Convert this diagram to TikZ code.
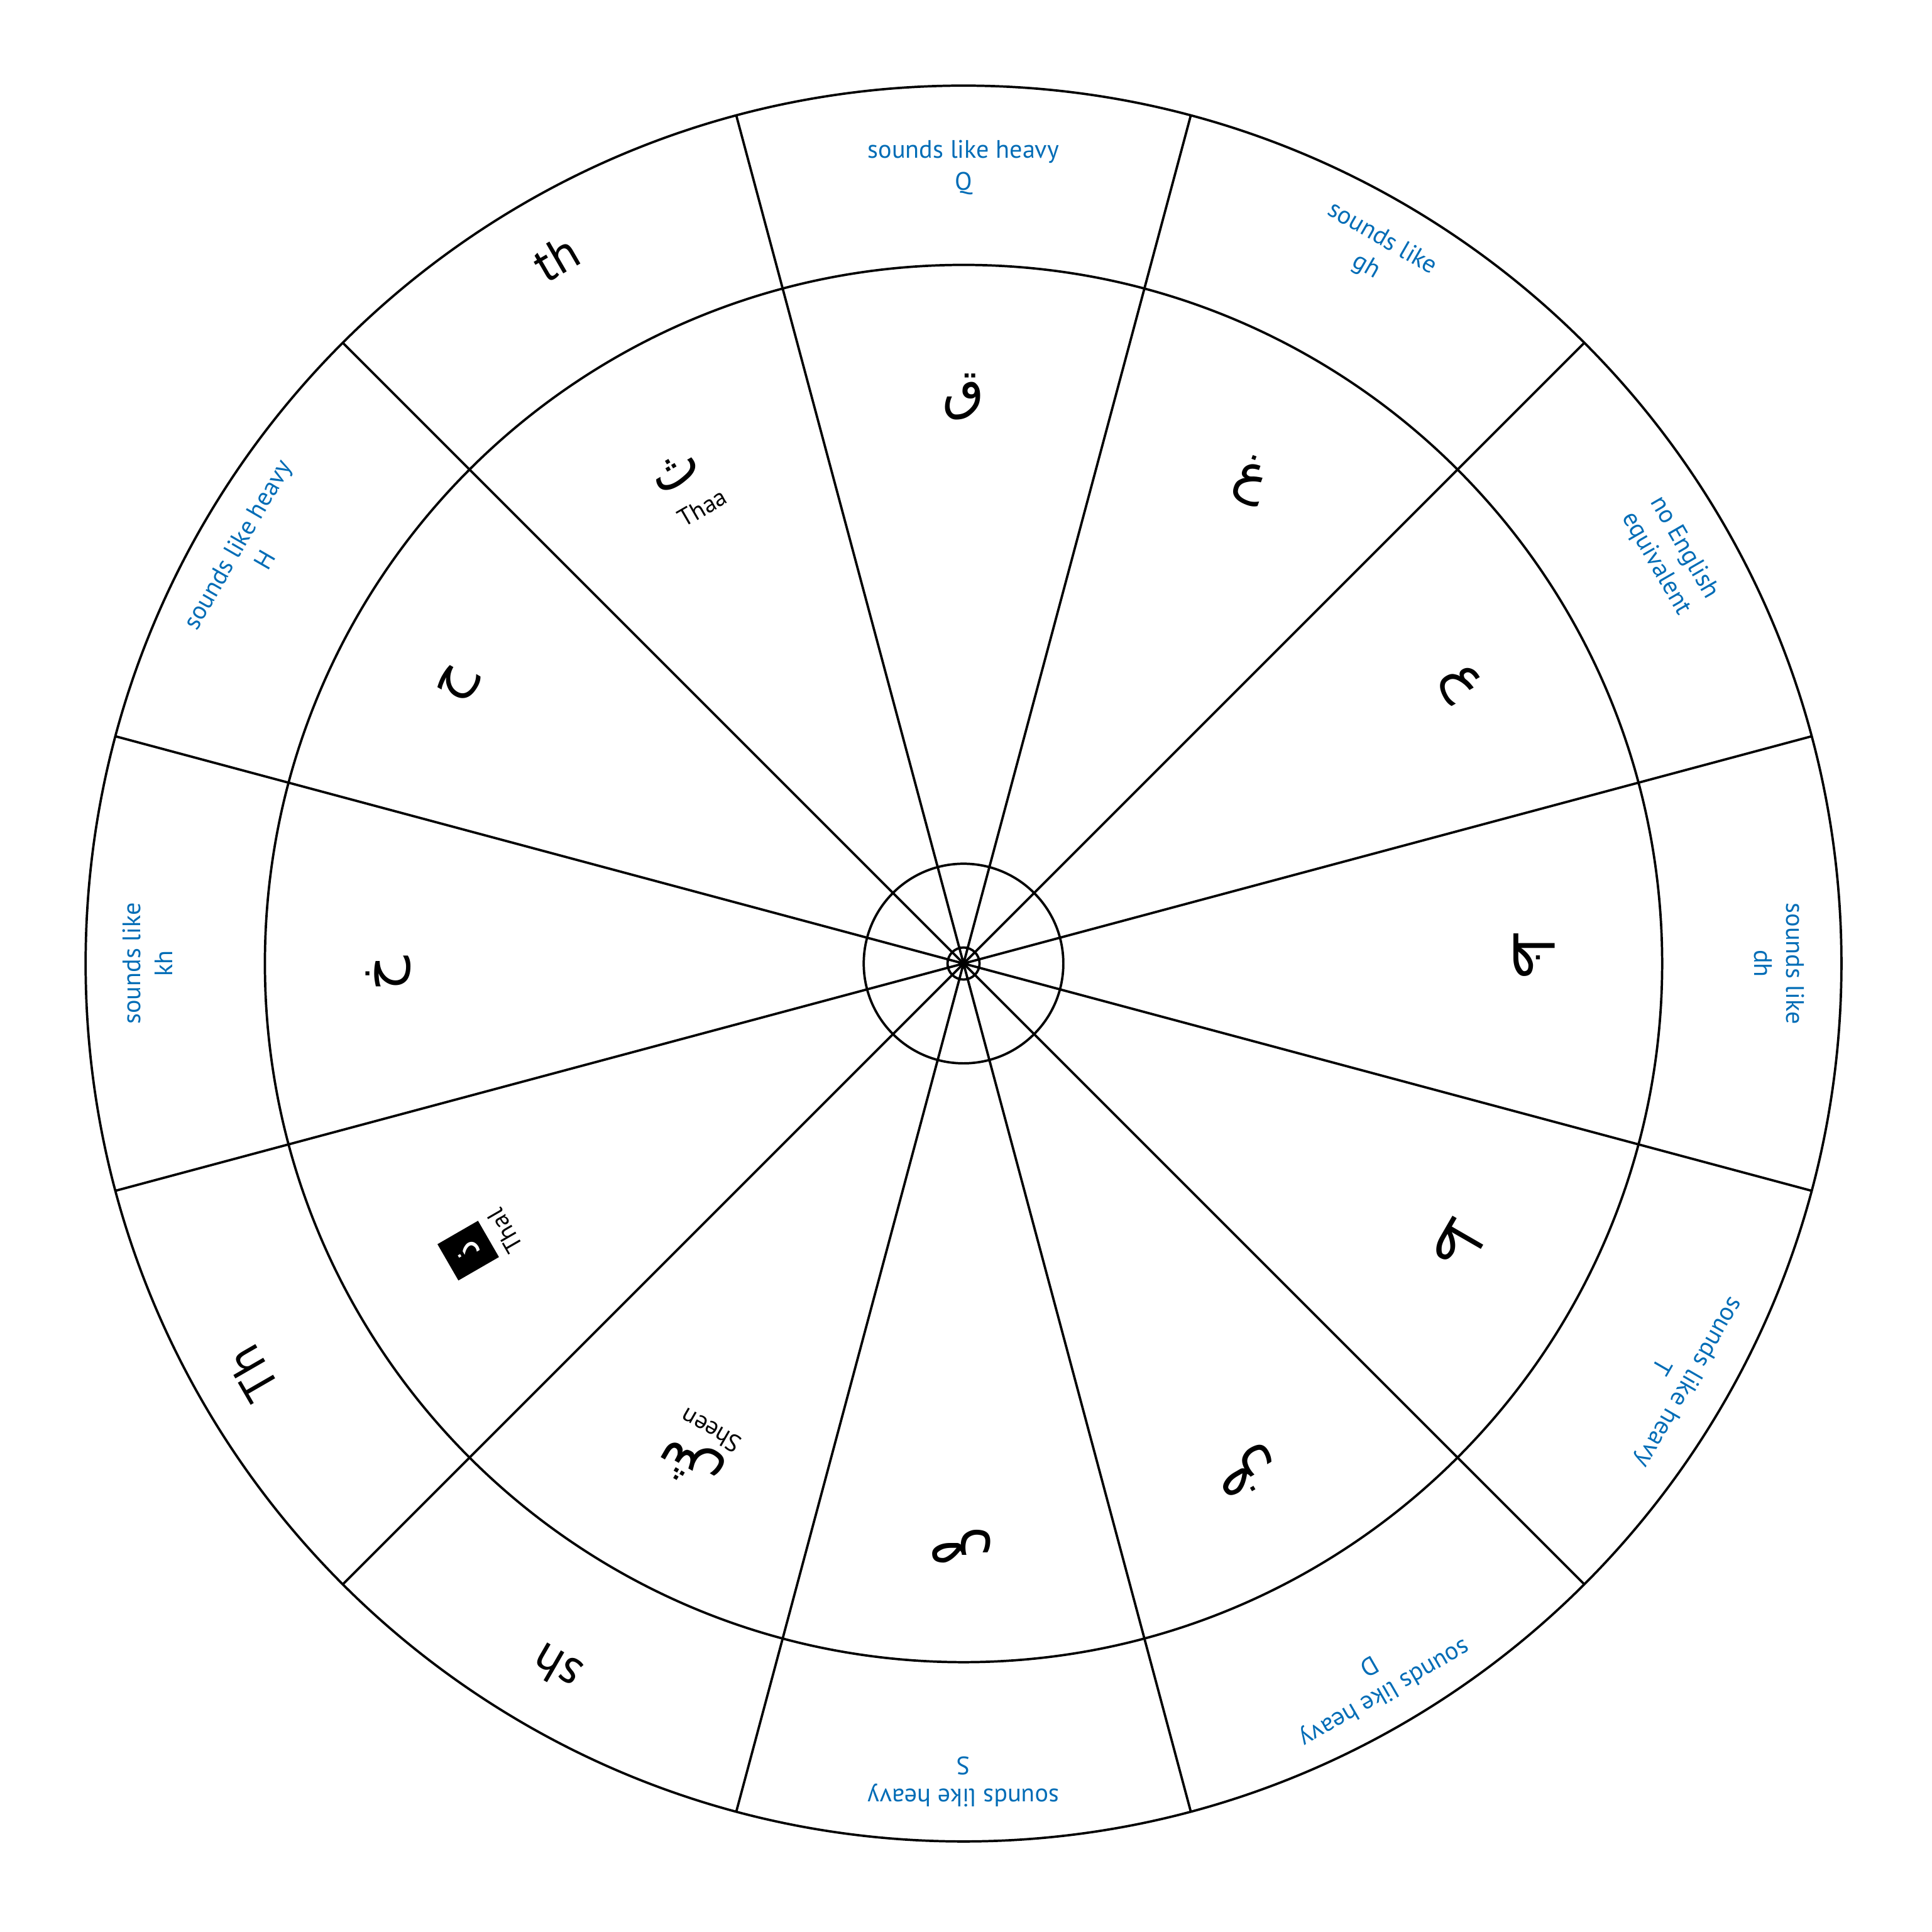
\documentclass[tikz,border=0pt]{standalone}
\usepackage{fontspec}
\setmainfont{PT Sans}
\newfontfamily\arabicfont[Script=Arabic]{DejaVu Sans}
\TeXXeTstate=1
\definecolor{lblue}{RGB}{0,108,182}
\begin{document}
\begin{tikzpicture}[x=1pt,y=1pt,
  ring/.style={draw=black,line width=1.9pt},
  spoke/.style={draw=black,line width=1.9pt},
  bluelbl/.style={text=lblue,font=\fontsize{20.5}{26}\selectfont,align=center,inner sep=0pt},
  biglbl/.style={text=black,font=\fontsize{40}{46}\selectfont,inner sep=0pt},
  letter/.style={font=\arabicfont\fontsize{44}{52}\selectfont,inner sep=0pt},
  smalllbl/.style={text=black,font=\fontsize{20}{23}\selectfont,inner sep=0pt}]
\useasboundingbox (-782,-786) rectangle (786,782);
\coordinate (c) at (0,0);
\draw[ring] (c) circle (712.5);
\draw[ring] (c) circle (567);
\draw[ring] (c) circle (81);
\draw[ring] (c) circle (13);
\foreach \a in {15,45,...,345} {
  \coordinate (o\a) at (\a:712.5);
  \draw[spoke] (c) -- (o\a);
}
% outer labels
\node[bluelbl,rotate=0]    (l90)  at (90:646)   {sounds like heavy\\Q};
\node[bluelbl,rotate=-30]  (l60)  at (60:666)   {sounds like\\gh};
\node[bluelbl,rotate=-60]  (l30)  at (30:662)   {no English\\equivalent};
\node[bluelbl,rotate=-90]  (l0)   at (0:662)    {sounds like\\dh};
\node[bluelbl,rotate=-120] (lm30) at (-30:668)  {sounds like heavy\\T};
\node[bluelbl,rotate=-150] (lm60) at (-60:672)  {sounds like heavy\\D};
\node[bluelbl,rotate=180]  (lm90) at (-90:664)  {sounds like heavy\\S};
\node[biglbl,rotate=150]   (lm120) at (-120:660) {sh};
\node[biglbl,rotate=120]   (lm150) at (-150:666) {Th};
\node[bluelbl,rotate=90]   (l180) at (180:662)  {sounds like\\kh};
\node[bluelbl,rotate=60]   (l150) at (150:668)  {sounds like heavy\\H};
\node[biglbl,rotate=30]    (l120) at (120:661)  {th};
% letters
\node[letter,rotate=0]    (q)   at (0,460)      {\beginR ق\endR};
\node[letter,rotate=-20]  (gh)  at (233,392)    {\beginR غ\endR};
\node[letter,rotate=-60]  (ay)  at (403,227)    {\beginR ع\endR};
\node[letter,rotate=-90]  (dh)  at (463,7)      {\beginR ظ\endR};
\node[letter,rotate=-120] (tt)  at (403,-228)   {\beginR ط\endR};
\node[letter,rotate=-150] (dd)  at (230,-413)   {\beginR ض\endR};
\node[letter,rotate=180]  (ss)  at (-2,-473)    {\beginR ص\endR};
\node[letter,rotate=150]  (sh)  at (-221,-405)  {\beginR ش\endR};
\node[smalllbl,rotate=150] (shl) at (-205,-379) {Sheen};
\node[letter,rotate=120,fill=black,text=white,minimum width=34,minimum height=38,
      font=\arabicfont\fontsize{30}{36}\selectfont] (th) at (-402,-233) {\beginR ذ\endR};
\node[smalllbl,rotate=120] (thl) at (-372,-217) {Thal};
\node[letter,rotate=90]   (kh)  at (-467,-8)    {\beginR خ\endR};
\node[letter,rotate=60]   (hh)  at (-410,227)   {\beginR ح\endR};
\node[letter,rotate=30]   (tha) at (-234,399)   {\beginR ث\endR};
\node[smalllbl,rotate=30] (thal) at (-212,370)  {Thaa};
\end{tikzpicture}
\end{document}
